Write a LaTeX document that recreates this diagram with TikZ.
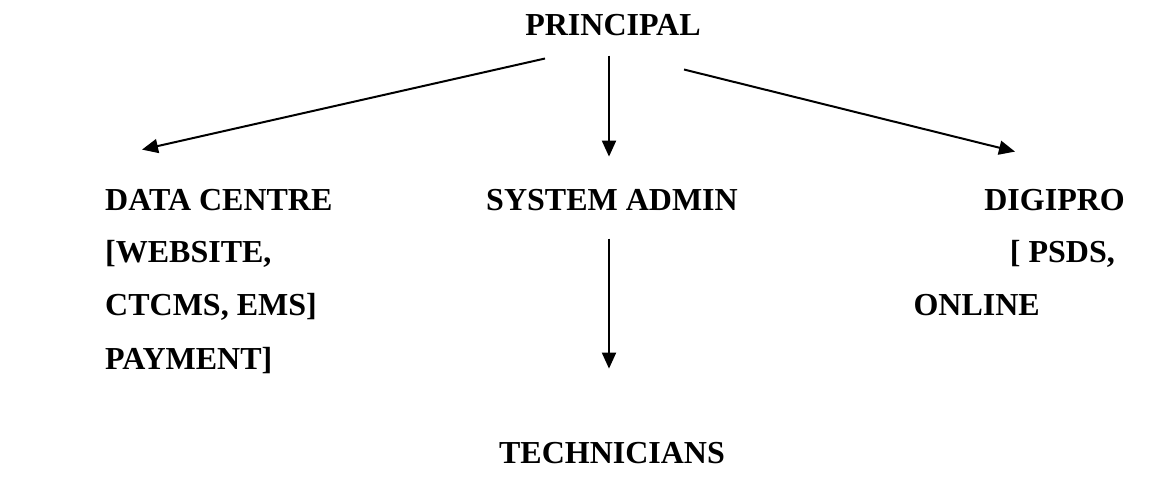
\documentclass[tikz,border=0pt]{standalone}
\usepackage{fontspec}
\setmainfont{Liberation Serif}
\usetikzlibrary{arrows.meta}

\begin{document}
\begin{tikzpicture}[x=1pt,y=-1pt,
  lbl/.style={inner sep=0pt, font=\fontsize{32}{40}\selectfont\bfseries},
  link/.style={-{Triangle[length=16pt,width=14pt]}, line width=2pt}]
\useasboundingbox (0,0) rectangle (1153,502);
\node (principal) [lbl, anchor=base] at (613,36) {PRINCIPAL};
% left column
\node (datacentre) [lbl, anchor=base west] at (105,211) {DATA CENTRE};
\node (website) [lbl, anchor=base west] at (105,263) {[WEBSITE,};
\node (ctcms) [lbl, anchor=base west] at (105,316) {CTCMS, EMS]};
\node (payment) [lbl, anchor=base west] at (105,369) {PAYMENT]};
% middle column
\node (sysadmin) [lbl, anchor=base] at (612,211) {SYSTEM ADMIN};
\node (technicians) [lbl, anchor=base] at (612,463) {TECHNICIANS};
% right column
\node (digipro) [lbl, anchor=base east] at (1125,211) {DIGIPRO};
\node (psds) [lbl, anchor=base east] at (1115,263) {[ PSDS,};
\node (online) [lbl, anchor=base east] at (1040,316) {ONLINE};
\draw[link] ([xshift=-68pt,yshift=-22pt]principal.south) -- ([xshift=37pt,yshift=40pt]datacentre.north west);
\draw[link] ([xshift=-4pt,yshift=-19pt]principal.south) -- ([xshift=-3pt,yshift=33pt]sysadmin.north);
\draw[link] ([xshift=71pt,yshift=-33pt]principal.south) -- ([xshift=-110pt,yshift=38pt]digipro.north east);
\draw[link] ([xshift=-3pt,yshift=-27pt]sysadmin.south) -- ([xshift=-3pt,yshift=73pt]technicians.north);
\end{tikzpicture}
\end{document}
